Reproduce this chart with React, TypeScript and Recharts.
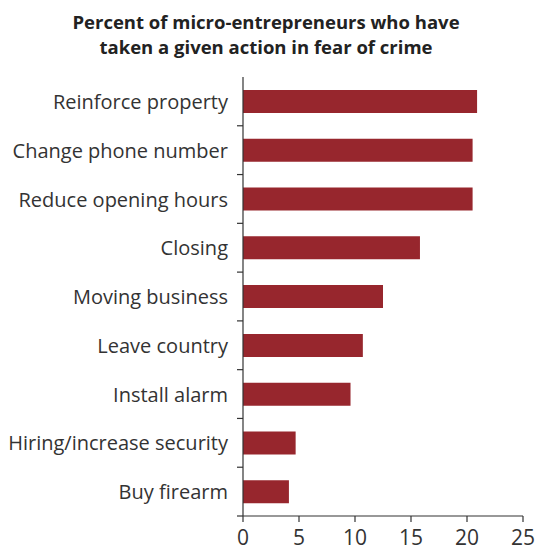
import { BarChart, Bar, XAxis, YAxis } from "recharts";

const actions = [
  "Reinforce property",
  "Change phone number",
  "Reduce opening hours",
  "Closing",
  "Moving business",
  "Leave country",
  "Install alarm",
  "Hiring/increase security",
  "Buy firearm",
];
const percents = [20.9, 20.5, 20.5, 15.8, 12.5, 10.7, 9.6, 4.7, 4.1];
const xTicks = [0, 5, 10, 15, 20, 25];

const data = actions.map((a, i) => ({ action: a, pct: percents[i] }));

const W = 536;
const H = 550;
const TOP = 77;
const BOTTOM = 34;
const FONT = "'Open Sans', sans-serif";
const BAND = (H - TOP - BOTTOM) / actions.length;

function CatTick(props: any) {
  const { x, y, payload } = props;
  const ax = x + 15;
  return (
    <g>
      <text
        x={x}
        y={y}
        dy="0.38em"
        textAnchor="end"
        fill="#333"
        fontSize={20}
        fontFamily={FONT}
      >
        {payload.value}
      </text>
      <line x1={ax - 6} x2={ax} y1={y + BAND / 2} y2={y + BAND / 2} stroke="#333" strokeWidth={1.2} />
    </g>
  );
}

export default function App() {
  return (
    <div style={{ position: "absolute", left: 0, top: 0, width: W, height: H, background: "#fff" }}>
      <div
        style={{
          position: "absolute",
          top: 9,
          left: 0,
          width: W - 4,
          textAlign: "center",
          fontFamily: FONT,
          fontWeight: 700,
          fontSize: 18.5,
          lineHeight: "25px",
          color: "#222",
        }}
      >
        Percent of micro-entrepreneurs who have
        <br />
        taken a given action in fear of crime
      </div>
      <BarChart
        width={W}
        height={H}
        data={data}
        layout="vertical"
        margin={{ top: TOP, right: 13, bottom: 0, left: 0 }}
        barSize={23}
      >
        <XAxis
          type="number"
          domain={[0, 25]}
          ticks={xTicks}
          height={BOTTOM}
          tickSize={6}
          tickMargin={8}
          axisLine={{ stroke: "#333", strokeWidth: 1.2 }}
          tickLine={{ stroke: "#333", strokeWidth: 1.2 }}
          tick={{ fill: "#333", fontSize: 21, fontFamily: FONT }}
        />
        <YAxis
          type="category"
          dataKey="action"
          width={243}
          tickSize={0}
          tickMargin={15}
          tickLine={false}
          axisLine={{ stroke: "#333", strokeWidth: 1.2 }}
          tick={<CatTick />}
          interval={0}
        />
        <Bar dataKey="pct" fill="#97262d" isAnimationActive={false} />
      </BarChart>
    </div>
  );
}
